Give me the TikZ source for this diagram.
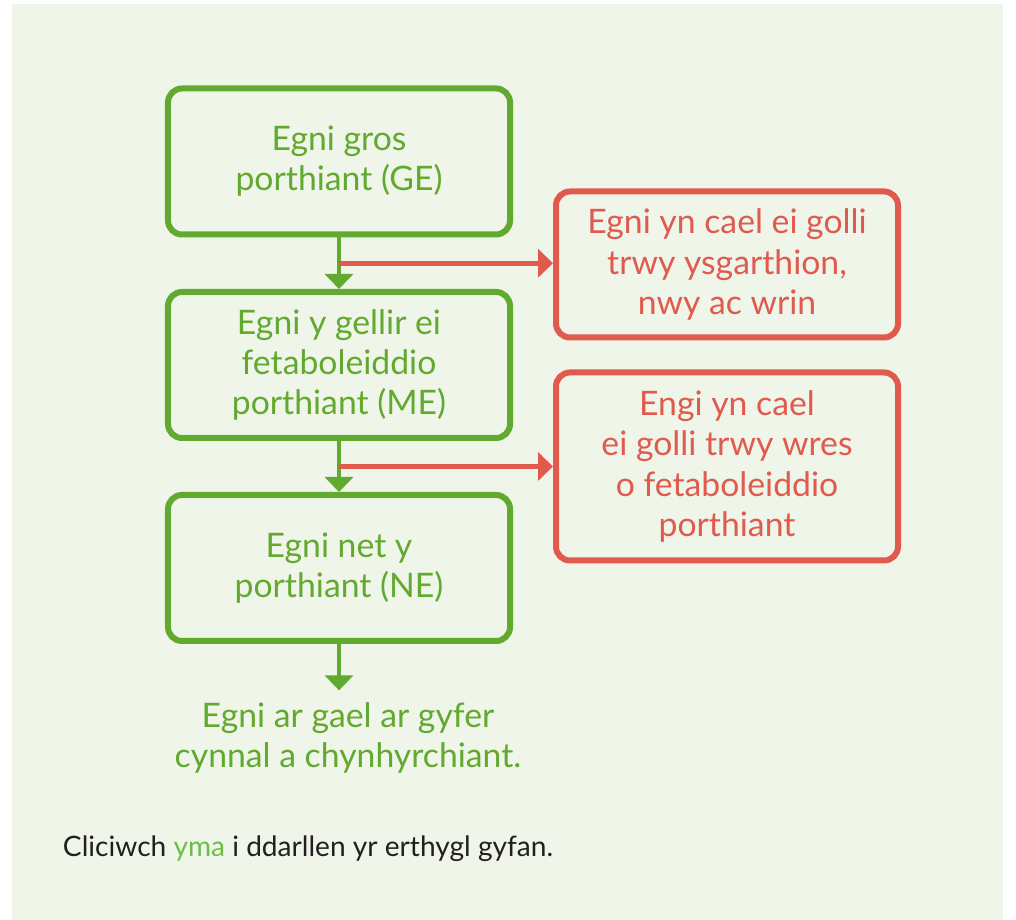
\documentclass[tikz,border=0pt]{standalone}
\usepackage{fontspec}
\setmainfont{Lato}
\usetikzlibrary{arrows.meta,calc}
\definecolor{leafgreen}{HTML}{62A92F}
\definecolor{lossred}{HTML}{E05A4E}
\definecolor{panelbg}{HTML}{F0F5EA}
\definecolor{linkgreen}{HTML}{6DBE47}
\definecolor{bodytext}{HTML}{231F20}

\begin{document}
\begin{tikzpicture}[x=0.25mm,y=0.25mm,
  feedbox/.style={draw=leafgreen,line width=1.5mm,rounded corners=3.5mm,
    minimum width=85.5mm,minimum height=36.5mm,text=leafgreen,align=center,
    font=\fontsize{24}{28.5}\selectfont},
  lossbox/.style={feedbox,draw=lossred,text=lossred},
  flow/.style={draw=leafgreen,line width=1.2mm,-{Triangle[length=3.75mm,width=7mm]}},
  leak/.style={flow,draw=lossred}]
  \useasboundingbox (0,0) rectangle (1016,920);
  \fill[panelbg] (12,0) rectangle (1003,916);
  % feed energy chain
  \node[feedbox] (ge) at (339,758.5) {Egni gros\\porthiant (GE)};
  \node[feedbox] (me) at (339,555) {Egni y gellir ei\\fetaboleiddio\\porthiant (ME)};
  \node[feedbox] (ne) at (339,352) {Egni net y\\porthiant (NE)};
  \node[text=leafgreen,align=center,inner ysep=3mm,
    font=\fontsize{24}{28.5}\selectfont] (use) at (348,182)
    {Egni ar gael ar gyfer\\cynnal a chynhyrchiant.};
  % losses
  \node[lossbox] (dung) at (727,655.5) {Egni yn cael ei golli\\trwy ysgarthion,\\nwy ac wrin};
  \node[lossbox,minimum height=47mm] (heat) at (727,453.5)
    {Engi yn cael\\ei golli trwy wres\\o fetaboleiddio\\porthiant};
  \draw[flow] (ge.south) -- (me.north);
  \draw[flow] (me.south) -- (ne.north);
  \draw[flow] (ne.south) -- (ne.south |- use.north);
  \coordinate (split1) at ($(ge.south)!0.5!(me.north)$);
  \coordinate (split2) at ($(me.south)!0.5!(ne.north)$);
  \draw[leak] (split1) -- (dung.west |- split1);
  \draw[leak] (split2) -- (heat.west |- split2);
  \node[anchor=west,text=bodytext,font=\fontsize{20}{24}\selectfont] (readmore) at (58,71)
    {Cliciwch \textcolor{linkgreen}{yma} i ddarllen yr erthygl gyfan.};
\end{tikzpicture}
\end{document}
